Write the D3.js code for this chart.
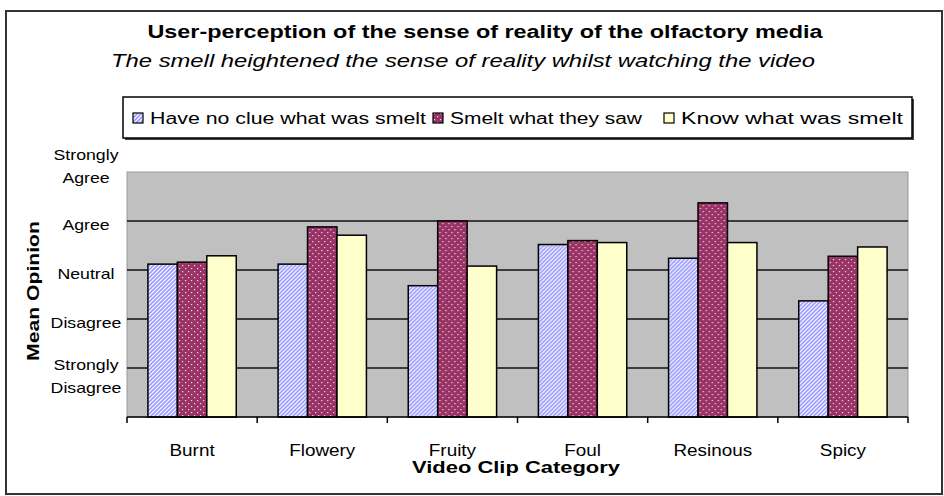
<html lang="en">
<head>
<meta charset="utf-8">
<script src="https://d3js.org/d3.v7.min.js"></script>
<style>
  body { margin: 0; background: #fff; }
  text { font-family: "Liberation Sans", Arial, sans-serif; fill: #000; }
</style>
<title>User-perception of the sense of reality</title>
</head>
<body>
<svg id="chart" width="944" height="496"></svg>
<script>
// ---- data ----
const categories = ["Burnt", "Flowery", "Fruity", "Foul", "Resinous", "Spicy"];
const seriesNames = ["Have no clue what was smelt", "Smelt what they saw", "Know what was smelt"];
const noClue = [3.12, 3.12, 2.68, 3.52, 3.24, 2.37];
const smeltSaw = [3.16, 3.88, 4.00, 3.60, 4.37, 3.28];
const knowSmelt = [3.29, 3.71, 3.08, 3.56, 3.56, 3.47];
const opinionTicks = [1, 2, 3, 4, 5];
const opinionLabels = [["Strongly", "Disagree"], ["Disagree"], ["Neutral"], ["Agree"], ["Strongly", "Agree"]];

const seriesValues = [noClue, smeltSaw, knowSmelt];

const svg = d3.select("#chart");
const plot = { left: 127, right: 908, top: 172, bottom: 417 };

// the original picture is stretched sideways, so widen the text to fit
function stretch(sel, k) {
    sel.each(function () {
        const len = this.getComputedTextLength();
        d3.select(this).attr("textLength", len * k).attr("lengthAdjust", "spacingAndGlyphs");
    });
}
function fitWidth(sel, w) {
    sel.attr("textLength", w).attr("lengthAdjust", "spacingAndGlyphs");
}

// ---- patterns ----
const defs = svg.append("defs");
const stripes = defs.append("pattern")
    .attr("id", "stripes").attr("patternUnits", "userSpaceOnUse")
    .attr("width", 4).attr("height", 4);
stripes.append("rect").attr("width", 4).attr("height", 4).attr("fill", "#fff");
stripes.append("path")
    .attr("d", "M-1,1 l2,-2 M0,4 l4,-4 M3,5 l2,-2")
    .attr("stroke", "#9999ff").attr("stroke-width", 1.6);

const dots = defs.append("pattern")
    .attr("id", "dots").attr("patternUnits", "userSpaceOnUse")
    .attr("width", 6).attr("height", 6);
dots.append("rect").attr("width", 6).attr("height", 6).attr("fill", "#993366");
dots.append("rect").attr("x", 1).attr("y", 1).attr("width", 1.2).attr("height", 1.2).attr("fill", "#f4dbe6");
dots.append("rect").attr("x", 4).attr("y", 4).attr("width", 1.2).attr("height", 1.2).attr("fill", "#f4dbe6");

const fills = ["url(#stripes)", "url(#dots)", "#ffffcc"];

// ---- outer frame ----
svg.append("rect")
    .attr("x", 6).attr("y", 11).attr("width", 936).attr("height", 483)
    .attr("fill", "#fff").attr("stroke", "#333").attr("stroke-width", 2);

// ---- titles ----
svg.append("text")
    .attr("x", 485).attr("y", 38)
    .attr("text-anchor", "middle")
    .style("font-weight", "bold").style("font-size", "18px")
    .text("User-perception of the sense of reality of the olfactory media")
    .call(fitWidth, 675);

svg.append("text")
    .attr("x", 463).attr("y", 67)
    .attr("text-anchor", "middle")
    .style("font-style", "italic").style("font-size", "18px")
    .text("The smell heightened the sense of reality whilst watching the video")
    .call(fitWidth, 704);

// ---- scales ----
const x0 = d3.scaleBand().domain(categories).range([plot.left, plot.right]);
const x1 = d3.scaleBand().domain(d3.range(seriesNames.length))
    .range([0, x0.bandwidth()]).paddingInner(0).paddingOuter(0.71);
const y = d3.scaleLinear().domain([0, 5]).range([plot.bottom, plot.top]);

// ---- plot area ----
svg.append("rect")
    .attr("x", plot.left).attr("y", plot.top)
    .attr("width", plot.right - plot.left).attr("height", plot.bottom - plot.top)
    .attr("fill", "#c0c0c0").attr("stroke", "#999").attr("stroke-width", 1);

svg.append("g").selectAll("line")
    .data(opinionTicks.slice(0, 4))
    .join("line")
    .attr("x1", plot.left).attr("x2", plot.right)
    .attr("y1", d => y(d)).attr("y2", d => y(d))
    .attr("stroke", "#111").attr("stroke-width", 1.5);

// ---- bars ----
const groups = svg.append("g").selectAll("g")
    .data(categories)
    .join("g")
    .attr("transform", d => `translate(${x0(d)},0)`);

groups.selectAll("rect")
    .data((c, i) => seriesValues.map((vals, s) => ({ s: s, v: vals[i] })))
    .join("rect")
    .attr("x", d => x1(d.s))
    .attr("width", x1.bandwidth())
    .attr("y", d => y(d.v))
    .attr("height", d => y(0) - y(d.v))
    .attr("fill", d => fills[d.s])
    .attr("stroke", "#000").attr("stroke-width", 1.5);

// ---- x axis ----
const xAxis = svg.append("g");
xAxis.append("line")
    .attr("x1", plot.left).attr("x2", plot.right)
    .attr("y1", plot.bottom).attr("y2", plot.bottom)
    .attr("stroke", "#000").attr("stroke-width", 1.5);
xAxis.selectAll("line.tick")
    .data(categories.concat(["end"]))
    .join("line").attr("class", "tick")
    .attr("x1", (d, i) => i < categories.length ? x0(d) : plot.right)
    .attr("x2", (d, i) => i < categories.length ? x0(d) : plot.right)
    .attr("y1", plot.bottom).attr("y2", plot.bottom + 6)
    .attr("stroke", "#000").attr("stroke-width", 1.5);
xAxis.selectAll("text")
    .data(categories)
    .join("text")
    .attr("x", d => x0(d) + x0.bandwidth() / 2)
    .attr("y", 456)
    .attr("text-anchor", "middle")
    .style("font-size", "16px")
    .text(d => d)
    .call(stretch, 1.18);

svg.append("text")
    .attr("x", 516).attr("y", 473)
    .attr("text-anchor", "middle")
    .style("font-weight", "bold").style("font-size", "17px")
    .text("Video Clip Category")
    .call(fitWidth, 208);

// ---- y axis labels ----
const yLab = svg.append("g").selectAll("text")
    .data(opinionTicks)
    .join("text")
    .attr("text-anchor", "middle")
    .style("font-size", "15px")
    .attr("transform", (d, i) => {
        const lines = opinionLabels[i].length;
        const shift = lines > 1 ? (d === 5 ? -6 : 8) : 4;
        return `translate(86,${y(d) + shift})`;
    });

yLab.selectAll("tspan")
    .data((d, i) => opinionLabels[i].map((t, j, arr) => ({ t: t, j: j, n: arr.length })))
    .join("tspan")
    .attr("x", 0)
    .attr("y", d => (d.j - (d.n - 1) / 2) * 23 + 5)
    .text(d => d.t);

yLab.selectAll("tspan").each(function () {
    const len = this.getComputedTextLength();
    d3.select(this).attr("textLength", len * 1.18).attr("lengthAdjust", "spacingAndGlyphs");
});

svg.append("text")
    .attr("transform", "translate(39,291) rotate(-90)")
    .attr("text-anchor", "middle")
    .style("font-weight", "bold").style("font-size", "17px")
    .text("Mean Opinion")
    .call(fitWidth, 140);

// ---- legend ----
const legend = svg.append("g");
legend.append("rect")
    .attr("x", 125).attr("y", 99).attr("width", 789).attr("height", 41)
    .attr("fill", "#444");
legend.append("rect")
    .attr("x", 123).attr("y", 97).attr("width", 789).attr("height", 41)
    .attr("fill", "#fff").attr("stroke", "#000").attr("stroke-width", 1.5);

const legendX = [133, 433, 664];
const legendTextW = [276, 192, 222];
const items = legend.selectAll("g.item")
    .data(seriesNames)
    .join("g").attr("class", "item")
    .attr("transform", (d, i) => `translate(${legendX[i]},118)`);
items.append("rect")
    .attr("x", 0).attr("y", -5).attr("width", 10).attr("height", 10)
    .attr("fill", (d, i) => fills[i])
    .attr("stroke", "#000").attr("stroke-width", 1.2);
items.append("text")
    .attr("x", 17).attr("y", 6)
    .style("font-size", "16px")
    .text(d => d)
    .attr("textLength", (d, i) => legendTextW[i])
    .attr("lengthAdjust", "spacingAndGlyphs");
</script>
</body>
</html>
